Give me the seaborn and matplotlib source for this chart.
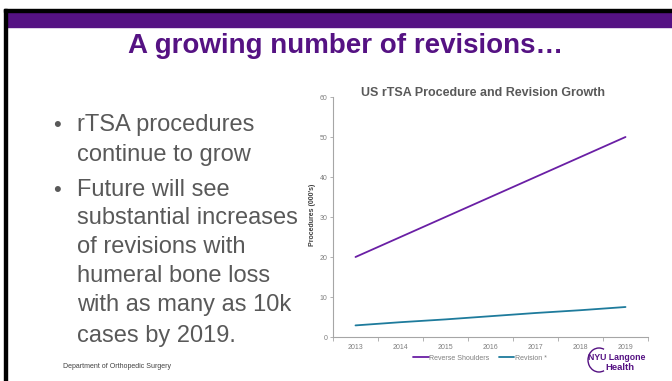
import matplotlib
matplotlib.use("Agg")
import matplotlib.pyplot as plt
import seaborn as sns
import pandas as pd
from matplotlib.patches import Rectangle, Arc

# ---- data ----
years = [2013, 2014, 2015, 2016, 2017, 2018, 2019]
reverse_shoulders = [20, 25, 30, 35, 40, 45, 50]
revision = [2.9, 3.7, 4.4, 5.2, 6.0, 6.7, 7.5]
series_names = ["Reverse Shoulders", "Revision *"]
y_ticks = [0, 10, 20, 30, 40, 50, 60]

slide_title = "A growing number of revisions…"
chart_title = "US rTSA Procedure and Revision Growth"
y_label = "Procedures (000's)"
bullets = [
    ["rTSA procedures", "continue to grow"],
    ["Future will see", "substantial increases", "of revisions with",
     "humeral bone loss", "with as many as 10k", "cases by 2019."],
]
footer = "Department of Orthopedic Surgery"

df = pd.DataFrame({
    "Year": years * 2,
    "Value": reverse_shoulders + revision,
    "Series": [series_names[0]] * len(years) + [series_names[1]] * len(years),
})

sns.set_theme(style="white")
plt.rcParams["font.family"] = ["Liberation Sans", "DejaVu Sans"]

W, H = 672, 381
fig = plt.figure(figsize=(W / 100, H / 100), dpi=100)
fig.patch.set_facecolor("white")


def fx(x):
    return x / W


def fy(y):
    return 1 - y / H


purple = "#551283"
line_purple = "#6a1fa5"
teal = "#1e7b9c"
gray_text = "#595959"

# slide frame
fig.patches.append(Rectangle((fx(4), 0), 3 / W, (H - 9) / H, transform=fig.transFigure,
                             color="black", zorder=5))
fig.patches.append(Rectangle((fx(4), fy(11.5)), (W - 4) / W, 2.5 / H, transform=fig.transFigure,
                             color="black", zorder=5))
fig.patches.append(Rectangle((fx(7), fy(27)), (W - 7) / W, 15.5 / H, transform=fig.transFigure,
                             color=purple, zorder=4))

# slide title
fig.text(fx(346), fy(46), slide_title, ha="center", va="center", fontsize=20,
         fontweight="bold", color=purple)

# bullets
baselines = [[131, 161], [196, 224, 253, 282, 311, 342]]
for para, bl in zip(bullets, baselines):
    fig.text(fx(53), fy(bl[0]), "•", ha="left", va="baseline", fontsize=16, color=gray_text)
    for line, b in zip(para, bl):
        fig.text(fx(77), fy(b), line, ha="left", va="baseline", fontsize=17, color=gray_text)

fig.text(fx(63), fy(366), footer, ha="left", va="center", fontsize=5, color="#404040")

# chart
ax = fig.add_axes([fx(333), fy(337), (648 - 333) / W, (337 - 97) / H])
sns.lineplot(data=df, x="Year", y="Value", hue="Series", palette=[line_purple, teal],
             linewidth=1.3, ax=ax)
ax.set_xlim(2012.5, 2019.5)
ax.set_ylim(0, 60)
ax.set_yticks(y_ticks)
ax.set_xticks(years)
ax.set_xticks([y - 0.5 for y in years] + [years[-1] + 0.5], minor=True)
ax.tick_params(axis="x", which="major", length=0, labelsize=5, labelcolor="#7f7f7f", pad=5)
ax.tick_params(axis="x", which="minor", length=3, width=0.6, color="#a6a6a6", direction="out",
               bottom=True)
ax.tick_params(axis="y", length=2, width=0.6, color="#a6a6a6", labelsize=5,
               labelcolor="#7f7f7f", pad=2, left=True)
for s in ["top", "right"]:
    ax.spines[s].set_visible(False)
for s in ["left", "bottom"]:
    ax.spines[s].set_color("#a6a6a6")
    ax.spines[s].set_linewidth(0.8)
ax.set_xlabel("")
ax.set_ylabel("")
ax.set_facecolor("none")
fig.text(fx(313), fy(215), y_label, rotation=90, ha="center", va="center", fontsize=5,
         fontweight="bold", color="#404040")
fig.text(fx(483), fy(93), chart_title, ha="center", va="center", fontsize=9,
         fontweight="bold", color=gray_text)

sns.move_legend(ax, "center", bbox_to_anchor=(fx(480), fy(358)), bbox_transform=fig.transFigure,
                ncol=2, frameon=False, title=None, fontsize=5, handlelength=2.2,
                handletextpad=0.05, columnspacing=1.4)
for t in ax.get_legend().get_texts():
    t.set_color("#7f7f7f")

# logo
fig.text(fx(617), fy(357), "NYU Langone", ha="center", va="center", fontsize=6.3,
         fontweight="bold", color=purple)
fig.text(fx(620), fy(367.5), "Health", ha="center", va="center", fontsize=6.8,
         fontweight="bold", color=purple)
fig.patches.append(Arc((fx(599), fy(360)), 22 / W, 24 / H, theta1=75, theta2=285,
                       transform=fig.transFigure, color=purple, linewidth=1.0))

fig.savefig("out.png", dpi=100, facecolor="white")
